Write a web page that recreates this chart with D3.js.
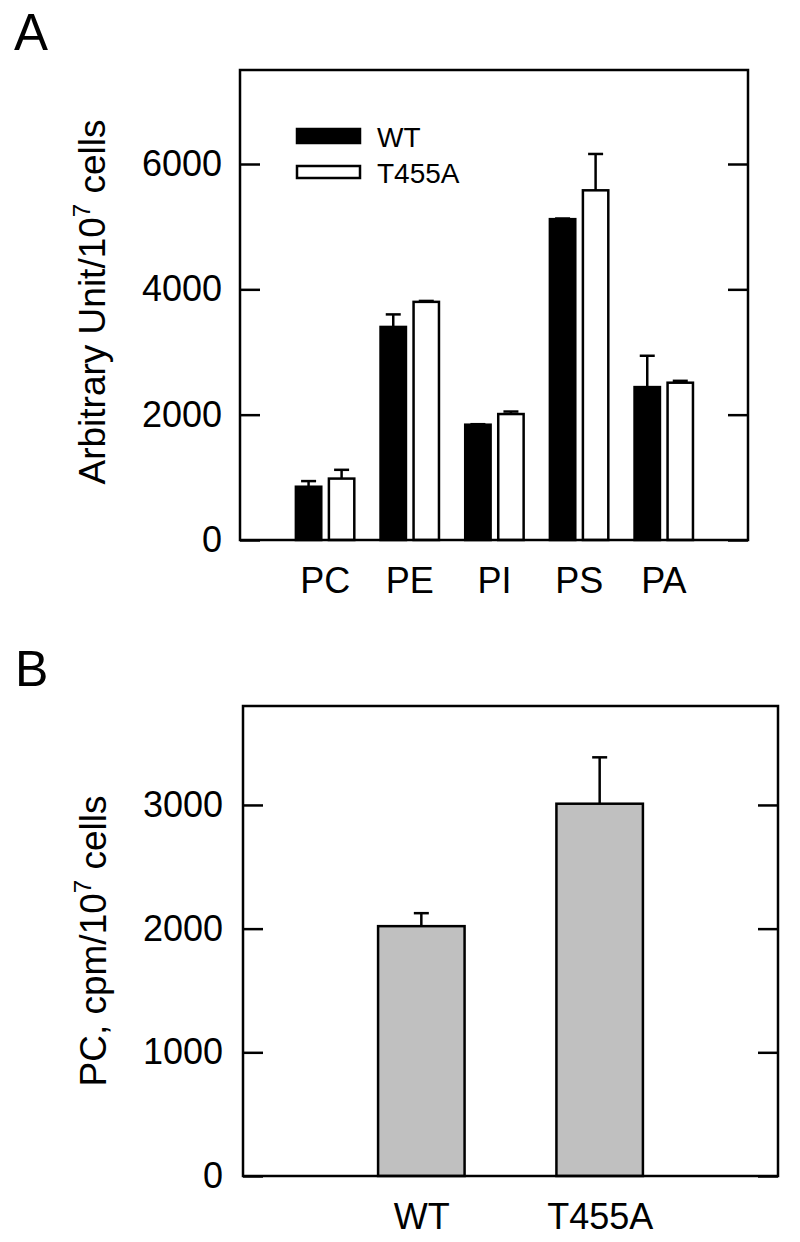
<!DOCTYPE html>
<html>
<head>
<meta charset="utf-8">
<script src="https://cdn.jsdelivr.net/npm/d3@7"></script>
<style>
  body { margin: 0; background: #fff; }
  svg { display: block; font-family: "Liberation Sans", Arial, sans-serif; }
</style>
</head>
<body>
<div id="chart"></div>
<script>
// panel A data
var lipids = ["PC", "PE", "PI", "PS", "PA"];
var wtValues = [850, 3400, 1840, 5120, 2440];
var wtErrors = [90, 200, 8, 10, 500];
var mutValues = [980, 3800, 2010, 5580, 2510];
var mutErrors = [140, 15, 40, 580, 30];
var seriesNames = ["WT", "T455A"];
var ticksA = [0, 2000, 4000, 6000];

// panel B data
var strains = ["WT", "T455A"];
var pcValues = [2020, 3010];
var pcErrors = [105, 375];
var ticksB = [0, 1000, 2000, 3000];

var svg = d3.select("#chart").append("svg")
    .attr("width", 800)
    .attr("height", 1242);

var lw = 2.5;

// ------------------------------
// Panel A
// ------------------------------
var xA = d3.scalePoint().domain(lipids).range([240, 748]).padding(1);
var yA = d3.scaleLinear().domain([0, 7500]).range([540, 70]);
var stepA = xA.step();

var gA = svg.append("g");

gA.append("text")
    .attr("x", 14).attr("y", 50)
    .attr("font-size", 51)
    .text("A");

// left axis, ticks inside
gA.append("g")
    .attr("transform", "translate(240,0)")
    .call(d3.axisLeft(yA).tickValues(ticksA).tickSize(-20).tickPadding(18).tickFormat(d3.format("d")))
    .call(function (g) { g.select(".domain").remove(); })
    .call(function (g) {
        g.selectAll("line").attr("stroke", "#000").attr("stroke-width", lw);
        g.selectAll("text").attr("font-size", 36).attr("font-family", "Liberation Sans, Arial, sans-serif").attr("fill", "#000");
    });

// right axis ticks
gA.append("g")
    .attr("transform", "translate(748,0)")
    .call(d3.axisRight(yA).tickValues(ticksA).tickSize(-20).tickFormat(""))
    .call(function (g) { g.select(".domain").remove(); })
    .call(function (g) { g.selectAll("line").attr("stroke", "#000").attr("stroke-width", lw); });

// category labels
gA.append("g")
    .attr("transform", "translate(0,540)")
    .call(d3.axisBottom(xA).tickSize(0).tickPadding(27))
    .call(function (g) { g.select(".domain").remove(); })
    .call(function (g) {
        g.selectAll("text").attr("font-size", 36).attr("font-family", "Liberation Sans, Arial, sans-serif").attr("fill", "#000");
    });

var barW = stepA * 0.3;
var groups = [
    { name: "WT", vals: wtValues, errs: wtErrors, off: -0.19, fill: "#000" },
    { name: "T455A", vals: mutValues, errs: mutErrors, off: 0.2, fill: "#fff" }
];

groups.forEach(function (s) {
    var data = lipids.map(function (c, i) { return { c: c, v: s.vals[i], e: s.errs[i] }; });
    var cx = function (d) { return xA(d.c) + s.off * stepA; };

    // error bars
    gA.selectAll(null).data(data).enter().append("line")
        .attr("x1", cx).attr("x2", cx)
        .attr("y1", function (d) { return yA(d.v); })
        .attr("y2", function (d) { return yA(d.v + d.e); })
        .attr("stroke", "#000").attr("stroke-width", lw);
    gA.selectAll(null).data(data).enter().append("line")
        .attr("x1", function (d) { return cx(d) - 7.5; })
        .attr("x2", function (d) { return cx(d) + 7.5; })
        .attr("y1", function (d) { return yA(d.v + d.e); })
        .attr("y2", function (d) { return yA(d.v + d.e); })
        .attr("stroke", "#000").attr("stroke-width", lw);

    gA.selectAll(null).data(data).enter().append("rect")
        .attr("x", function (d) { return cx(d) - barW / 2; })
        .attr("y", function (d) { return yA(d.v); })
        .attr("width", barW)
        .attr("height", function (d) { return yA(0) - yA(d.v); })
        .attr("fill", s.fill)
        .attr("stroke", "#000").attr("stroke-width", lw);
});

// frame
gA.append("rect")
    .attr("x", 240).attr("y", 70)
    .attr("width", 508).attr("height", 470)
    .attr("fill", "none").attr("stroke", "#000").attr("stroke-width", lw);

// legend
var legend = gA.append("g");
seriesNames.forEach(function (n, i) {
    legend.append("rect")
        .attr("x", 297).attr("y", i === 0 ? 129 : 166)
        .attr("width", 63).attr("height", i === 0 ? 14 : 12)
        .attr("fill", i === 0 ? "#000" : "#fff")
        .attr("stroke", "#000").attr("stroke-width", lw);
    legend.append("text")
        .attr("x", 377).attr("y", i === 0 ? 147 : 183)
        .attr("font-size", 28)
        .text(n);
});

// y label
var labA = gA.append("text")
    .attr("transform", "translate(105,302) rotate(-90)")
    .attr("text-anchor", "middle")
    .attr("font-size", 37);
labA.append("tspan").text("Arbitrary Unit/10");
labA.append("tspan").attr("font-size", 24).attr("dy", -15).text("7");
labA.append("tspan").attr("dy", 15).text(" cells");

// ------------------------------
// Panel B
// ------------------------------
var xB = d3.scalePoint().domain(strains).range([243, 778]).padding(1);
var yB = d3.scaleLinear().domain([0, 3800]).range([1176, 706]);
var stepB = xB.step();

var gB = svg.append("g");

gB.append("text")
    .attr("x", 15).attr("y", 686)
    .attr("font-size", 50)
    .text("B");

gB.append("g")
    .attr("transform", "translate(243,0)")
    .call(d3.axisLeft(yB).tickValues(ticksB).tickSize(-20).tickPadding(20).tickFormat(d3.format("d")))
    .call(function (g) { g.select(".domain").remove(); })
    .call(function (g) {
        g.selectAll("line").attr("stroke", "#000").attr("stroke-width", lw);
        g.selectAll("text").attr("font-size", 36).attr("font-family", "Liberation Sans, Arial, sans-serif").attr("fill", "#000");
    });

gB.append("g")
    .attr("transform", "translate(778,0)")
    .call(d3.axisRight(yB).tickValues(ticksB).tickSize(-20).tickFormat(""))
    .call(function (g) { g.select(".domain").remove(); })
    .call(function (g) { g.selectAll("line").attr("stroke", "#000").attr("stroke-width", lw); });

gB.append("g")
    .attr("transform", "translate(0,1176)")
    .call(d3.axisBottom(xB).tickSize(0).tickPadding(27))
    .call(function (g) { g.select(".domain").remove(); })
    .call(function (g) {
        g.selectAll("text").attr("font-size", 36).attr("font-family", "Liberation Sans, Arial, sans-serif").attr("fill", "#000");
    });

var dataB = strains.map(function (c, i) { return { c: c, v: pcValues[i], e: pcErrors[i] }; });
var barWB = stepB * 0.485;

gB.selectAll(null).data(dataB).enter().append("line")
    .attr("x1", function (d) { return xB(d.c); })
    .attr("x2", function (d) { return xB(d.c); })
    .attr("y1", function (d) { return yB(d.v); })
    .attr("y2", function (d) { return yB(d.v + d.e); })
    .attr("stroke", "#000").attr("stroke-width", lw);
gB.selectAll(null).data(dataB).enter().append("line")
    .attr("x1", function (d) { return xB(d.c) - 7.5; })
    .attr("x2", function (d) { return xB(d.c) + 7.5; })
    .attr("y1", function (d) { return yB(d.v + d.e); })
    .attr("y2", function (d) { return yB(d.v + d.e); })
    .attr("stroke", "#000").attr("stroke-width", lw);

gB.selectAll(null).data(dataB).enter().append("rect")
    .attr("x", function (d) { return xB(d.c) - barWB / 2; })
    .attr("y", function (d) { return yB(d.v); })
    .attr("width", barWB)
    .attr("height", function (d) { return yB(0) - yB(d.v); })
    .attr("fill", "#c0c0c0")
    .attr("stroke", "#000").attr("stroke-width", lw);

gB.append("rect")
    .attr("x", 243).attr("y", 706)
    .attr("width", 535).attr("height", 470)
    .attr("fill", "none").attr("stroke", "#000").attr("stroke-width", lw);

var labB = gB.append("text")
    .attr("transform", "translate(106,941) rotate(-90)")
    .attr("text-anchor", "middle")
    .attr("font-size", 37);
labB.append("tspan").text("PC, cpm/10");
labB.append("tspan").attr("font-size", 24).attr("dy", -15).text("7");
labB.append("tspan").attr("dy", 15).text(" cells");
</script>
</body>
</html>
